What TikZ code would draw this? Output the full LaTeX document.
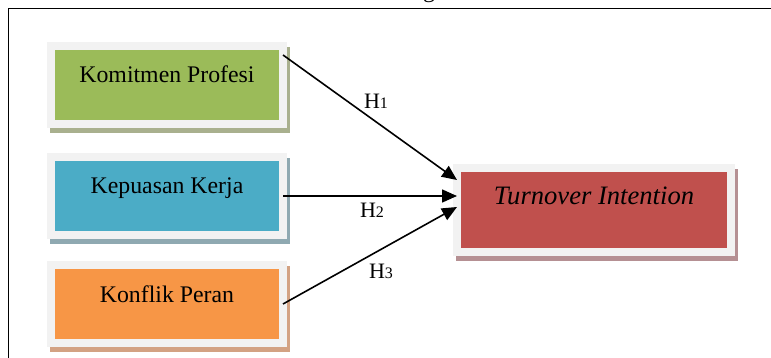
\documentclass[tikz,border=0pt]{standalone}
\usepackage{fontspec}
\setmainfont{Liberation Serif}
\usetikzlibrary{arrows.meta,calc}
\definecolor{frameg}{HTML}{F2F2F2}
\definecolor{cgreen}{HTML}{9BBB59}
\definecolor{sgreen}{HTML}{A9B08E}
\definecolor{cblue}{HTML}{4BACC6}
\definecolor{sblue}{HTML}{8FA9B1}
\definecolor{corange}{HTML}{F79646}
\definecolor{sorange}{HTML}{D3A283}
\definecolor{cred}{HTML}{C0504D}
\definecolor{sred}{HTML}{B59093}
\tikzset{
  box/.style args={#1/#2}{rectangle, fill=#1, draw=frameg, line width=8pt,
    inner sep=0pt, outer sep=0pt,
    preaction={draw=#2, fill=#2, line width=8pt, transform canvas={xshift=3pt, yshift=-5pt}}},
  leftbox/.style={minimum width=232pt, minimum height=78pt, text height=17pt, text depth=21pt,
    font=\fontsize{23.8}{28}\selectfont},
  arr/.style={-{Triangle[length=15pt,width=13pt]}, line width=1.6pt},
  hlab/.style={anchor=base, inner sep=0pt},
}
\newcommand{\hlabel}[1]{{\fontsize{22}{26}\selectfont H\fontsize{16}{18}\selectfont #1}}
\begin{document}
\begin{tikzpicture}[x=1pt, y=-1pt]
\useasboundingbox (0,0) rectangle (771,358);
\clip (0,0) rectangle (771,358);
\node[anchor=base, inner sep=0pt, font=\fontsize{24}{28}\selectfont] (title) at (429,-2) {g};
\draw[line width=1.5pt] (8.5,370) -- (8.5,8.5) -- (780,8.5);
\node[box=cgreen/sgreen, leftbox] (k1) at (167,85) {Komitmen Profesi};
\node[box=cblue/sblue, leftbox] (k2) at (167,196) {Kepuasan Kerja};
\node[box=corange/sorange, leftbox] (k3) at (167,304) {Konflik Peran};
\node[box=cred/sred, minimum width=274pt, minimum height=84pt, text height=18pt, text depth=28pt,
  font=\fontsize{26.6}{30}\selectfont\itshape] (t) at (594,210) {Turnover Intention};
\draw[arr] ($(k1.east)+(0,-30)$) -- ($(t.west)+(0,-30)$);
\draw[arr] (k2.east) -- ($(t.west)+(0,-14)$);
\draw[arr] (k3.east) -- ($(t.west)+(0,-3)$);
\node[hlab] (h1) at (376,109) {\hlabel{1}};
\node[hlab] (h2) at (372,218) {\hlabel{2}};
\node[hlab] (h3) at (381,278) {\hlabel{3}};
\end{tikzpicture}
\end{document}
